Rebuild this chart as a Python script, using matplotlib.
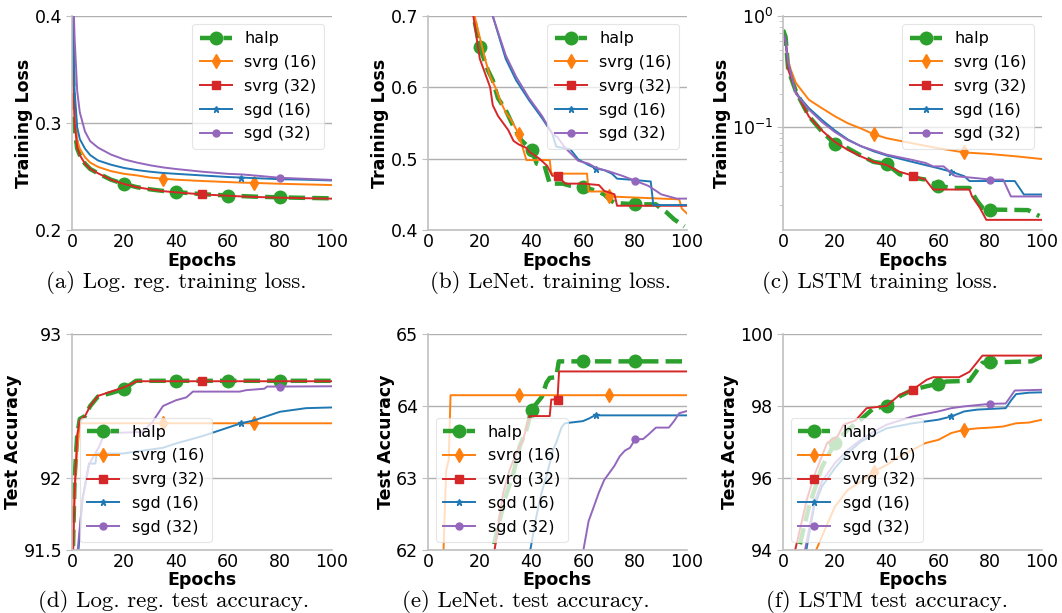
import numpy as np
import matplotlib
matplotlib.use("Agg")
import matplotlib.pyplot as plt

plt.rcParams['font.family'] = ['DejaVu Sans']

# ---- series names / labels ----
names = ['halp', 'svrg16', 'svrg32', 'sgd16', 'sgd32']
labels = ['halp', 'svrg (16)', 'svrg (32)', 'sgd (16)', 'sgd (32)']
marks = {'halp': [20, 40, 60, 80], 'svrg16': [35, 70], 'svrg32': [50],
         'sgd16': [65], 'sgd32': [80]}

# ---- (a) log. reg. training loss ----
a_ep = [0, 0.5, 1, 2, 3, 5, 7, 10, 15, 20, 25, 30, 35, 40, 50, 60, 65, 70, 80, 90, 100]
a_halp = [0.42, 0.33, 0.295, 0.276, 0.27, 0.262, 0.257, 0.253, 0.247, 0.243, 0.240, 0.238,
          0.2365, 0.2355, 0.2335, 0.2322, 0.2317, 0.2312, 0.2305, 0.230, 0.2296]
a_svrg16 = [0.45, 0.36, 0.31, 0.284, 0.276, 0.268, 0.263, 0.259, 0.255, 0.2525, 0.251, 0.249,
            0.248, 0.247, 0.2458, 0.2448, 0.2443, 0.244, 0.2432, 0.2426, 0.242]
a_svrg32 = [0.42, 0.34, 0.30, 0.277, 0.27, 0.262, 0.257, 0.253, 0.247, 0.243, 0.240, 0.238,
            0.2363, 0.2352, 0.2333, 0.232, 0.2314, 0.2309, 0.2302, 0.2297, 0.2293]
a_sgd16 = [0.45, 0.38, 0.33, 0.296, 0.285, 0.276, 0.270, 0.265, 0.261, 0.258, 0.256, 0.2545,
           0.2533, 0.2525, 0.251, 0.2495, 0.249, 0.2485, 0.2475, 0.247, 0.2463]
a_sgd32 = [0.5, 0.42, 0.38, 0.33, 0.31, 0.292, 0.283, 0.277, 0.2705, 0.266, 0.263, 0.2605,
           0.2585, 0.257, 0.2545, 0.2525, 0.252, 0.251, 0.2488, 0.2478, 0.2468]

# ---- (b) LeNet training loss ----
b_halp_x = [0, 10, 17, 20, 23, 25, 27, 30, 33, 36, 40, 42, 45, 47, 52, 55, 60, 65, 68, 70,
            72, 80, 85, 88, 90, 92, 95, 97, 99]
b_halp = [1.2, 0.85, 0.71, 0.657, 0.625, 0.61, 0.585, 0.568, 0.545, 0.526, 0.512, 0.493,
          0.49, 0.465, 0.465, 0.462, 0.46, 0.455, 0.45, 0.443, 0.438, 0.436, 0.436, 0.436,
          0.43, 0.425, 0.415, 0.41, 0.405]
b_svrg16_x = [0, 10, 18, 20, 22, 24, 26, 28, 30, 32, 35, 37, 38, 47, 47.6, 61.4, 62, 68,
              70, 97, 98, 100]
b_svrg16 = [1.2, 0.85, 0.70, 0.67, 0.64, 0.615, 0.6, 0.58, 0.565, 0.555, 0.535, 0.51, 0.498,
            0.498, 0.479, 0.479, 0.454, 0.454, 0.447, 0.443, 0.43, 0.423]
b_svrg32_x = [0, 10, 17.5, 20, 22, 24, 25, 27, 29, 31, 33, 35, 38, 39, 41, 43, 46, 48, 50,
              53, 60, 66, 68, 72, 73, 100]
b_svrg32 = [1.2, 0.85, 0.70, 0.64, 0.62, 0.60, 0.575, 0.56, 0.55, 0.54, 0.525, 0.52, 0.515,
            0.51, 0.505, 0.5, 0.49, 0.476, 0.476, 0.465, 0.465, 0.463, 0.455, 0.45, 0.434,
            0.434]
b_sgd16_x = [0, 15, 25, 30, 34, 39, 44, 48, 49.5, 55, 58, 62, 65, 68, 71, 73, 80, 86, 87,
             100]
b_sgd16 = [1.2, 0.85, 0.70, 0.64, 0.61, 0.582, 0.557, 0.535, 0.517, 0.513, 0.499, 0.491,
           0.486, 0.484, 0.479, 0.472, 0.47, 0.468, 0.435, 0.435]
b_sgd32_x = [0, 15, 25, 30, 34, 39, 44, 48, 50, 53, 55, 58, 62, 65, 70, 75, 80, 85, 88, 90,
             93, 96, 100]
b_sgd32 = [1.2, 0.85, 0.70, 0.645, 0.615, 0.585, 0.56, 0.535, 0.53, 0.515, 0.508, 0.497,
           0.493, 0.487, 0.482, 0.476, 0.469, 0.462, 0.455, 0.45, 0.447, 0.444, 0.444]

# ---- (c) LSTM training loss ----
c_halp_x = [0, 1, 2, 5, 10, 15, 20, 25, 30, 35, 40, 45, 50, 55, 60, 65, 72, 74.6, 77, 80,
            94.6, 99]
c_halp = [0.75, 0.65, 0.33, 0.21, 0.126, 0.092, 0.0715, 0.065, 0.056, 0.049, 0.047, 0.038,
          0.0355, 0.034, 0.030, 0.0286, 0.0286, 0.0225, 0.019, 0.0183, 0.0181, 0.016]
c_svrg16_x = [0, 1, 2, 3, 5, 10, 15, 20, 25, 30, 35, 40, 50, 60, 70, 80, 90, 100]
c_svrg16 = [0.7, 0.6, 0.4, 0.33, 0.25, 0.177, 0.149, 0.126, 0.109, 0.098, 0.087, 0.080,
            0.072, 0.065, 0.0596, 0.0577, 0.055, 0.052]
c_svrg32_x = [0, 1, 2, 5, 10, 15, 20, 25, 30, 35, 40, 45, 50, 55, 58, 72, 73, 76, 78.5, 100]
c_svrg32 = [0.7, 0.6, 0.33, 0.21, 0.125, 0.094, 0.074, 0.063, 0.055, 0.049, 0.046, 0.040,
            0.037, 0.034, 0.0277, 0.0277, 0.024, 0.019, 0.0148, 0.0148]
c_sgd16_x = [0, 1, 2, 3, 5, 10, 15, 20, 25, 30, 35, 40, 50, 60, 65, 70, 72, 89.5, 93, 100]
c_sgd16 = [0.7, 0.6, 0.38, 0.31, 0.203, 0.149, 0.117, 0.094, 0.078, 0.068, 0.061, 0.056,
           0.049, 0.043, 0.040, 0.0365, 0.033, 0.033, 0.025, 0.025]
c_sgd32_x = [0, 1, 2, 3, 5, 10, 15, 20, 25, 30, 40, 50, 55, 58, 62, 66.5, 75, 80, 85, 88,
             100]
c_sgd32 = [0.7, 0.6, 0.38, 0.31, 0.2, 0.145, 0.112, 0.091, 0.077, 0.068, 0.057, 0.051,
           0.048, 0.0447, 0.0447, 0.0365, 0.035, 0.034, 0.034, 0.024, 0.024]

# ---- (d) log. reg. test accuracy ----
d_halp_x = [0, 1, 2, 3, 5, 7, 10, 15, 20, 24.6, 40, 60, 80, 100]
d_halp = [91.2, 92.0, 92.3, 92.41, 92.43, 92.5, 92.566, 92.59, 92.617, 92.675, 92.675,
          92.675, 92.675, 92.675]
d_svrg16_x = [0, 1, 2, 3, 35, 70, 100]
d_svrg16 = [91.2, 91.9, 92.2, 92.38, 92.38, 92.38, 92.38]
d_svrg32_x = [0, 1, 2, 3, 5, 7, 10, 15, 20, 25, 50, 100]
d_svrg32 = [91.2, 91.9, 92.3, 92.4, 92.43, 92.5, 92.57, 92.6, 92.63, 92.672, 92.672, 92.672]
d_sgd16_x = [0, 2.5, 4, 6.5, 9, 9.5, 19.5, 35, 40, 50, 60, 65, 70, 80, 90, 100]
d_sgd16 = [91.3, 91.5, 91.85, 92.1, 92.1, 92.17, 92.17, 92.21, 92.24, 92.29, 92.35, 92.38,
           92.40, 92.46, 92.485, 92.49]
d_sgd32_x = [0, 2.2, 4, 6.7, 10.5, 12.5, 27, 31, 35, 40, 44, 46.5, 64.5, 67, 74, 75, 80, 100]
d_sgd32 = [91.2, 91.5, 91.85, 92.1, 92.22, 92.31, 92.32, 92.39, 92.5, 92.54, 92.56, 92.6,
           92.6, 92.61, 92.62, 92.635, 92.635, 92.637]

# ---- (e) LeNet test accuracy ----
e_halp_x = [0, 24, 25, 27.7, 30, 33, 35.4, 38, 40, 42, 44, 45.7, 47, 49.5, 50.5, 60, 80, 100]
e_halp = [55, 61.8, 62.0, 62.42, 62.75, 63.07, 63.44, 63.67, 63.95, 64.04, 64.13, 64.32,
          64.39, 64.4, 64.62, 64.62, 64.62, 64.62]
e_svrg16_x = [0, 5, 6, 7, 8, 8.7, 35, 70, 100]
e_svrg16 = [50, 61.0, 62.0, 63.1, 63.25, 64.15, 64.15, 64.15, 64.15]
e_svrg32_x = [0, 25, 25.7, 29, 31.5, 34, 36.7, 38.6, 39.3, 47, 47.6, 50, 50.6, 100]
e_svrg32 = [55, 61.7, 62.0, 62.79, 63.11, 63.34, 63.53, 63.78, 63.86, 63.86, 64.09, 64.09,
            64.48, 64.48]
e_sgd16_x = [0, 39, 39.5, 41.8, 43.8, 45.7, 48.3, 49.5, 51.5, 52.8, 59.8, 62.4, 64.4, 65, 100]
e_sgd16 = [55, 61.8, 62.0, 62.46, 62.79, 63.02, 63.39, 63.49, 63.7, 63.76, 63.79, 63.83,
           63.87, 63.87, 63.87]
e_sgd32_x = [0, 59, 60, 62, 64, 66, 68, 70, 72, 74, 76, 78, 80, 83, 85, 88, 93, 95, 97, 100]
e_sgd32 = [55, 61.8, 62.0, 62.4, 62.6, 62.8, 62.97, 63.07, 63.17, 63.3, 63.38, 63.42, 63.54,
           63.54, 63.6, 63.7, 63.7, 63.79, 63.9, 63.93]

# ---- (f) LSTM test accuracy ----
f_halp_x = [0, 5, 6, 10, 15, 20, 25, 30, 35, 40, 45, 50, 55, 60, 63, 72, 77, 80, 96, 100]
f_halp = [90, 93.8, 94.0, 95.2, 96.3, 96.97, 97.34, 97.62, 97.94, 97.99, 98.27, 98.45,
          98.54, 98.62, 98.68, 98.7, 99.2, 99.21, 99.24, 99.38]
f_svrg16_x = [0, 12.8, 15, 20, 25, 30, 35, 40, 45, 50, 55, 60, 65, 70, 75, 80, 85, 90, 95, 100]
f_svrg16 = [91, 94.0, 94.37, 95.2, 95.67, 95.9, 96.18, 96.36, 96.6, 96.78, 96.97, 97.06,
            97.25, 97.34, 97.38, 97.4, 97.43, 97.52, 97.54, 97.62]
f_svrg32_x = [0, 4.7, 9.2, 12, 17, 21, 23.4, 28, 32.3, 40, 45, 50, 55.5, 58, 68, 72, 77, 100]
f_svrg32 = [90, 94.0, 95.4, 96.05, 96.97, 97.15, 97.48, 97.6, 97.94, 98.0, 98.31, 98.45,
            98.73, 98.8, 98.8, 98.95, 99.4, 99.4]
f_sgd16_x = [0, 9, 12, 15, 20, 25, 30, 35, 40, 50, 55, 60, 65, 70, 75, 86, 88, 90, 95, 100]
f_sgd16 = [91, 94.0, 95.2, 95.76, 96.27, 96.69, 97.01, 97.2, 97.38, 97.52, 97.57, 97.62,
           97.71, 97.85, 97.9, 97.94, 98.15, 98.33, 98.37, 98.38]
f_sgd32_x = [0, 8.5, 12, 15, 20, 25, 30, 35, 40, 50, 60, 65, 70, 80, 86, 89.5, 100]
f_sgd32 = [91, 94.0, 95.3, 95.9, 96.41, 96.78, 97.06, 97.29, 97.48, 97.71, 97.85, 97.94,
           97.99, 98.06, 98.07, 98.43, 98.45]

captions = ['(a) Log. reg. training loss.', '(b) LeNet. training loss.',
            '(c) LSTM training loss.', '(d) Log. reg. test accuracy.',
            '(e) LeNet. test accuracy.', '(f) LSTM test accuracy.']

# styles
sty = {
    'halp':   dict(color='#2ca02c', ls='--', lw=3.2, marker='o', ms=9),
    'svrg16': dict(color='#ff7f0e', ls='-', lw=1.4, marker='d', ms=7),
    'svrg32': dict(color='#d62728', ls='-', lw=1.4, marker='s', ms=5.5),
    'sgd16':  dict(color='#1f77b4', ls='-', lw=1.4, marker='*', ms=5),
    'sgd32':  dict(color='#9467bd', ls='-', lw=1.4, marker='o', ms=5),
}

panels = [
    dict(data=[(a_ep, a_halp), (a_ep, a_svrg16), (a_ep, a_svrg32), (a_ep, a_sgd16), (a_ep, a_sgd32)],
         ylim=(0.2, 0.4), yticks=[0.2, 0.3, 0.4], ylabel='Training Loss', log=False, loc='upper right'),
    dict(data=[(b_halp_x, b_halp), (b_svrg16_x, b_svrg16), (b_svrg32_x, b_svrg32),
               (b_sgd16_x, b_sgd16), (b_sgd32_x, b_sgd32)],
         ylim=(0.4, 0.7), yticks=[0.4, 0.5, 0.6, 0.7], ylabel='Training Loss', log=False, loc='upper right'),
    dict(data=[(c_halp_x, c_halp), (c_svrg16_x, c_svrg16), (c_svrg32_x, c_svrg32),
               (c_sgd16_x, c_sgd16), (c_sgd32_x, c_sgd32)],
         ylim=(0.012, 1.0), yticks=None, ylabel='Training Loss', log=True, loc='upper right'),
    dict(data=[(d_halp_x, d_halp), (d_svrg16_x, d_svrg16), (d_svrg32_x, d_svrg32),
               (d_sgd16_x, d_sgd16), (d_sgd32_x, d_sgd32)],
         ylim=(91.5, 93), yticks=[91.5, 92, 93], ylabel='Test Accuracy', log=False, loc='lower left'),
    dict(data=[(e_halp_x, e_halp), (e_svrg16_x, e_svrg16), (e_svrg32_x, e_svrg32),
               (e_sgd16_x, e_sgd16), (e_sgd32_x, e_sgd32)],
         ylim=(62, 65), yticks=[62, 63, 64, 65], ylabel='Test Accuracy', log=False, loc='lower left'),
    dict(data=[(f_halp_x, f_halp), (f_svrg16_x, f_svrg16), (f_svrg32_x, f_svrg32),
               (f_sgd16_x, f_sgd16), (f_sgd32_x, f_sgd32)],
         ylim=(94, 100), yticks=[94, 96, 98, 100], ylabel='Test Accuracy', log=False, loc='lower left'),
]

W, H = 1062, 613
fig = plt.figure(figsize=(W / 100, H / 100), dpi=100)

cols = [(72, 332), (428, 687), (783, 1042)]
rows = [(16, 230), (334, 550)]
cap_x = [176, 550, 880, 174, 526, 887]
cap_y = [288, 288, 288, 607, 607, 607]   # text baselines
xlab_pad = [1, 0]

for k, p in enumerate(panels):
    r, c = divmod(k, 3)
    x0, x1 = cols[c]
    y0, y1 = rows[r]
    ax = fig.add_axes([x0 / W, 1 - y1 / H, (x1 - x0) / W, (y1 - y0) / H])
    ax.set_facecolor('white')

    for name, lab, (xs, ys) in zip(names, labels, p['data']):
        s = sty[name]
        idx = [i for i, v in enumerate(xs) if v in marks[name]]
        ax.plot(xs, ys, color=s['color'], ls=s['ls'], lw=s['lw'], marker=s['marker'],
                ms=s['ms'], markevery=idx, label=lab, clip_on=True)

    if p['log']:
        ax.set_yscale('log')
    ax.set_ylim(*p['ylim'])
    if p['yticks'] is not None:
        ax.set_yticks(p['yticks'])
        ax.set_yticklabels([('%g' % t) for t in p['yticks']])
    ax.set_xlim(0, 100)
    ax.set_xticks([0, 20, 40, 60, 80, 100])

    ax.grid(True, axis='y', which='major', color='#b0b0b0', lw=1.0)
    ax.grid(False, axis='x')
    for sp in ['top', 'right']:
        ax.spines[sp].set_visible(False)
    for sp in ['left', 'bottom']:
        ax.spines[sp].set_color('#c0c0c0')
        ax.spines[sp].set_linewidth(1.2)
    ax.tick_params(axis='both', which='both', labelsize=12.5, colors='#c0c0c0',
                   labelcolor='black')
    ax.tick_params(axis='x', length=0, pad=2)
    ax.tick_params(axis='y', which='major', length=4, pad=3)
    ax.tick_params(axis='y', which='minor', length=3)

    ax.set_xlabel('Epochs', fontsize=12.5, fontweight='bold', labelpad=xlab_pad[r])
    ax.set_ylabel(p['ylabel'], fontsize=12.5, fontweight='bold', labelpad=1)

    leg = ax.legend(loc=p['loc'], fontsize=11.5, framealpha=0.75, edgecolor='#dddddd',
                    borderaxespad=0.5, labelspacing=0.55, handlelength=2.0,
                    borderpad=0.45)
    leg.get_frame().set_linewidth(0.8)

    fig.text(cap_x[k] / W, 1 - cap_y[k] / H, captions[k], family='cmr10',
             fontsize=16.5, ha='center', va='baseline')

fig.savefig('out.png', dpi=100)
